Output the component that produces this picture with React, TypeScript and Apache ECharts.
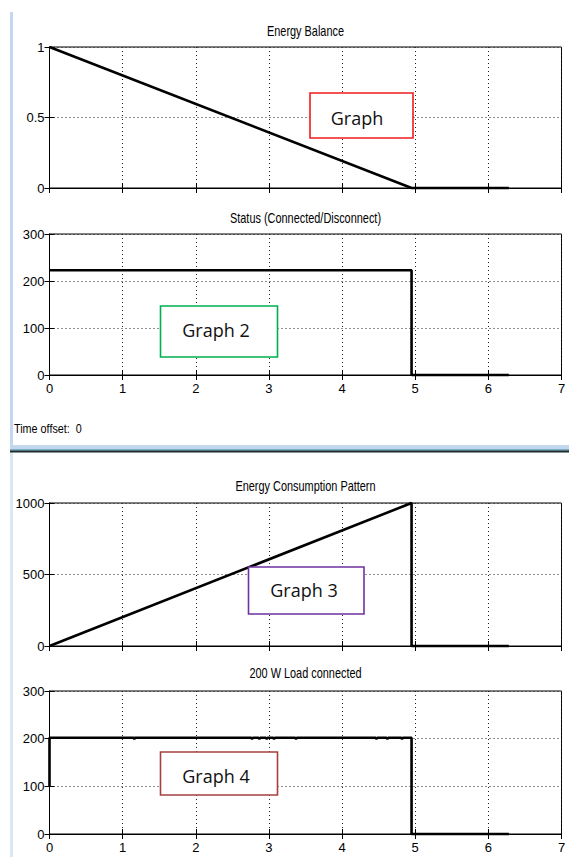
import React, { useEffect, useRef } from "react";
import * as echarts from "echarts";

// ---- data ----
const balanceT = [0, 4.95, 6.28];
const balanceV = [1, 0, 0];

const statusT = [0, 4.95, 4.95, 6.28];
const statusV = [223, 223, 0, 0];

const consumptionT = [0, 4.95, 4.95, 6.28];
const consumptionV = [0, 1000, 0, 0];

const loadT = [0, 0, 1.15, 1.16, 1.17, 2.75, 2.77, 2.79, 2.85, 2.87, 2.89, 2.95, 2.97, 2.99, 3.05, 3.07, 3.09, 3.35, 3.37, 3.39, 4.45, 4.47, 4.49, 4.6, 4.62, 4.64, 4.8, 4.82, 4.84, 4.95, 4.95, 6.28];
const loadV = [100, 202, 202, 199, 202, 202, 200, 202, 202, 200, 202, 202, 200, 202, 202, 200, 202, 202, 200, 202, 202, 200, 202, 202, 200, 202, 202, 200, 202, 202, 0, 0];

const titles = ["Energy Balance", "Status (Connected/Disconnect)", "Energy Consumption Pattern", "200 W Load connected"];
const yMax = [1, 300, 1000, 300];
const yStep = [0.5, 100, 500, 100];
const xMin = 0;
const xMax = 7;
const xStep = 1;
const boxLabels = ["Graph", "Graph 2", "Graph 3", "Graph 4"];
const boxColors = ["#ee1c1c", "#00b050", "#7030a0", "#a5403f"];
const timeOffsetLabel = "Time offset:  0";

const zip = (t: number[], v: number[]) => t.map((x, i) => [x, v[i]]);
const seriesData = [zip(balanceT, balanceV), zip(statusT, statusV), zip(consumptionT, consumptionV), zip(loadT, loadV)];

// ---- layout ----
const SANS = "'Liberation Sans', Arial, sans-serif";
const GRID_LEFT = 49.5;
const GRID_W = 512;
const gridTops = [47, 234, 503, 691];
const gridHeights = [141, 141, 143, 143];
const titleY = [32, 218.5, 486.5, 674];
const showXLabels = [false, true, false, true];
const boxes = [
  { x: 310, y: 93, w: 103, h: 45, tx: 357, ty: 117.5 },
  { x: 160.5, y: 306, w: 117, h: 51, tx: 216, ty: 330 },
  { x: 248.5, y: 567, w: 115.5, h: 47, tx: 304, ty: 590 },
  { x: 160.5, y: 752, w: 117, h: 43, tx: 216, ty: 776 },
];

const plainNumber = (v: number) => String(v);

export default function App() {
  const ref = useRef<HTMLDivElement>(null);
  useEffect(() => {
    if (!ref.current) return;
    const chart = echarts.init(ref.current, undefined, { renderer: "svg" });

    const grids: any[] = [];
    const xAxes: any[] = [];
    const yAxes: any[] = [];
    const series: any[] = [];
    const graphics: any[] = [];

    // background decorations
    graphics.push(
      { type: "rect", shape: { x: 10, y: 12, width: 3, height: 433 }, style: { fill: "#c3d8ef" }, silent: true },
      { type: "rect", shape: { x: 10, y: 452, width: 3, height: 405 }, style: { fill: "#dbe7f5" }, silent: true },
      { type: "rect", shape: { x: 10, y: 445, width: 559, height: 5 }, style: { fill: "#c3d8ef" }, silent: true },
      { type: "rect", shape: { x: 10, y: 449.5, width: 559, height: 1 }, style: { fill: "#2e8596" }, silent: true },
      { type: "rect", shape: { x: 10, y: 450.5, width: 559, height: 2 }, style: { fill: "#1d2a30" }, silent: true },
      {
        type: "text", x: 14, y: 429, scaleX: 0.8,
        style: { text: timeOffsetLabel, font: `13.5px ${SANS}`, fill: "#000", align: "left", verticalAlign: "middle" },
      }
    );

    for (let i = 0; i < 4; i++) {
      grids.push({
        left: GRID_LEFT, top: gridTops[i], width: GRID_W, height: gridHeights[i],
        show: true, borderColor: "#000", borderWidth: 1, backgroundColor: "#fff", containLabel: false,
      });
      const xCommon = { type: "value", gridIndex: i, min: xMin, max: xMax, interval: xStep };
      xAxes.push({
        ...xCommon, position: "bottom",
        axisLine: { show: true, lineStyle: { color: "#000", width: 1 } },
        axisTick: { show: true, inside: true, length: 5, lineStyle: { color: "#000" } },
        axisLabel: { show: showXLabels[i], color: "#000", fontSize: 13, fontFamily: SANS, margin: 7, formatter: plainNumber },
        splitLine: { show: true, lineStyle: { color: "#222", type: [1, 3], width: 1 } },
      });
      xAxes.push({
        ...xCommon, position: "top",
        axisLine: { show: true, lineStyle: { color: "#000", width: 1 } },
        axisTick: { show: true, inside: true, length: 5, lineStyle: { color: "#000" } },
        axisLabel: { show: false },
        splitLine: { show: false },
      });
      const yCommon = { type: "value", gridIndex: i, min: 0, max: yMax[i], interval: yStep[i] };
      yAxes.push({
        ...yCommon, position: "left",
        axisLine: { show: true, lineStyle: { color: "#000", width: 1 } },
        axisTick: { show: true, inside: true, length: 5, lineStyle: { color: "#000" } },
        axisLabel: { show: true, color: "#000", fontSize: 13, fontFamily: SANS, margin: 5, formatter: plainNumber },
        splitLine: { show: true, lineStyle: { color: "#222", type: [1, 3], width: 1 } },
      });
      yAxes.push({
        ...yCommon, position: "right",
        axisLine: { show: true, lineStyle: { color: "#000", width: 1 } },
        axisTick: { show: true, inside: true, length: 5, lineStyle: { color: "#000" } },
        axisLabel: { show: false },
        splitLine: { show: false },
      });
      series.push({
        type: "line",
        xAxisIndex: i * 2,
        yAxisIndex: i * 2,
        data: seriesData[i],
        symbol: "none",
        showSymbol: false,
        lineStyle: { color: "#000", width: 2.6 },
        clip: false,
        z: 5,
      });
      graphics.push({
        type: "text", x: GRID_LEFT + GRID_W / 2, y: titleY[i], scaleX: 0.78,
        style: { text: titles[i], font: `14px ${SANS}`, fill: "#000", align: "center", verticalAlign: "middle" },
      });
      const b = boxes[i];
      graphics.push({
        type: "rect", z: 100,
        shape: { x: b.x, y: b.y, width: b.w, height: b.h },
        style: { fill: "#fff", stroke: boxColors[i], lineWidth: 1.6 },
      });
      graphics.push({
        type: "text", z: 101, x: b.tx, y: b.ty,
        style: { text: boxLabels[i], font: `18px 'Open Sans', 'Noto Sans', sans-serif`, fill: "#111", align: "center", verticalAlign: "middle" },
      });
    }

    chart.setOption({
      animation: false,
      backgroundColor: "#fff",
      grid: grids,
      xAxis: xAxes,
      yAxis: yAxes,
      series,
      graphic: graphics,
    });
    return () => chart.dispose();
  }, []);

  return (
    <div
      ref={ref}
      style={{ position: "absolute", left: 0, top: 0, width: 569, height: 857 }}
    />
  );
}
